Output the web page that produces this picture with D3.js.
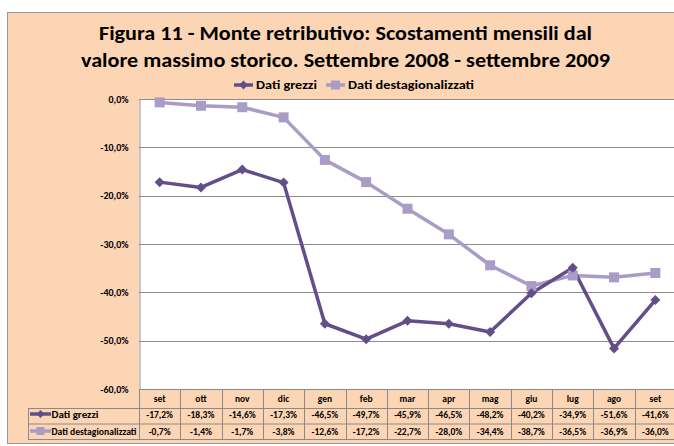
<!DOCTYPE html>
<html><head><meta charset="utf-8">
<script src="https://cdn.jsdelivr.net/npm/d3@7"></script>
<style>
html,body{margin:0;padding:0;background:#fff;}
svg{display:block;font-family:Carlito,Lato,"Open Sans",sans-serif;}
</style></head>
<body>
<svg id="c" width="674" height="446"></svg>
<script>
const months = ["set","ott","nov","dic","gen","feb","mar","apr","mag","giu","lug","ago","set"];
const grezzi = [-17.2,-18.3,-14.6,-17.3,-46.5,-49.7,-45.9,-46.5,-48.2,-40.2,-34.9,-51.6,-41.6];
const destag = [-0.7,-1.4,-1.7,-3.8,-12.6,-17.2,-22.7,-28.0,-34.4,-38.7,-36.5,-36.9,-36.0];
const yTicks = [0,-10,-20,-30,-40,-50,-60];
const seriesNames = ["Dati grezzi","Dati destagionalizzati"];
const titleLines = ["Figura 11 - Monte retributivo: Scostamenti mensili dal","valore massimo storico. Settembre 2008 - settembre 2009"];

const colG = "#634E8A", colD = "#A99CC7", peach = "#FCD5B5", grid = "#8C8C8C";
const locale = d3.formatLocale({decimal:",", thousands:".", grouping:[3], currency:["","€"], minus:"-"});
const f1 = locale.format(".1f");
const fmt = v => f1(v) + "%";

const svg = d3.select("#c");
// chart frame
svg.append("rect").attr("x",7.5).attr("y",12.5).attr("width",690).attr("height",431)
  .attr("fill",peach).attr("stroke","#9a9a9a");

// title
const tl = [{t:titleLines[0], y:39.5, w:493},{t:titleLines[1], y:66.5, w:529}];
svg.selectAll("text.title").data(tl).join("text").attr("class","title")
  .attr("x",345.5).attr("y",d=>d.y).attr("text-anchor","middle")
  .attr("font-size",19.5).attr("font-weight","bold").attr("fill","#000")
  .attr("textLength",d=>d.w).attr("lengthAdjust","spacingAndGlyphs").text(d=>d.t);

const x = d3.scaleBand().domain(d3.range(months.length)).range([139, 676]).padding(0);
const y = d3.scaleLinear().domain([-60, 0]).range([389, 99]);
const cx = i => x(i) + x.bandwidth()/2;

// plot area
svg.append("rect").attr("x",139).attr("y",99).attr("width",540).attr("height",290).attr("fill","#fff");
svg.append("g").selectAll("line").data(yTicks.filter(v=>v<0 && v>-60)).join("line")
  .attr("x1",139).attr("x2",676).attr("y1",d=>Math.round(y(d))+0.5).attr("y2",d=>Math.round(y(d))+0.5)
  .attr("stroke",grid).attr("stroke-width",1);
svg.append("line").attr("x1",139).attr("x2",680).attr("y1",99.5).attr("y2",99.5).attr("stroke",grid);

// y axis
const yAxis = d3.axisLeft(y).tickValues(yTicks).tickFormat(fmt).tickSize(0).tickPadding(11);
const gy = svg.append("g").attr("transform","translate(139.5,0)").call(yAxis);
gy.select(".domain").attr("stroke",grid);
gy.selectAll("text").attr("font-size",10).attr("font-weight","bold").attr("fill","#000")
  .attr("font-family","Carlito,Lato,sans-serif");

// lines
const line = d3.line().x((d,i)=>cx(i)).y(d=>y(d));
svg.append("path").datum(destag).attr("d",line).attr("fill","none").attr("stroke",colD).attr("stroke-width",3.5).attr("stroke-linejoin","round");
svg.append("path").datum(grezzi).attr("d",line).attr("fill","none").attr("stroke",colG).attr("stroke-width",3.5).attr("stroke-linejoin","round");

const diamond = (px,py,r) => `M${px},${py-r}L${px+r},${py}L${px},${py+r}L${px-r},${py}Z`;
const square = (px,py,r) => `M${px-r},${py-r}h${2*r}v${2*r}h${-2*r}Z`;

svg.append("g").selectAll("path").data(destag).join("path")
  .attr("d",(d,i)=>square(cx(i),y(d),5)).attr("fill",colD);
svg.append("g").selectAll("path").data(grezzi).join("path")
  .attr("d",(d,i)=>diamond(cx(i),y(d),5)).attr("fill",colG);

// legend
const leg = [{name:seriesNames[0], x0:234, col:colG, m:diamond, w:61},{name:seriesNames[1], x0:326, col:colD, m:square, w:126}];
const lg = svg.append("g");
leg.forEach(l=>{
  lg.append("line").attr("x1",l.x0).attr("x2",l.x0+19).attr("y1",85).attr("y2",85).attr("stroke",l.col).attr("stroke-width",3.5);
  lg.append("path").attr("d",l.m(l.x0+9.5,85,4.5)).attr("fill",l.col);
  lg.append("text").attr("x",l.x0+22).attr("y",89).attr("font-size",12.5).attr("font-weight","bold")
    .attr("textLength",l.w).attr("lengthAdjust","spacingAndGlyphs").text(l.name);
});

// data table
const tb = svg.append("g");
const tStroke = "#8a8a8a";
tb.append("line").attr("x1",139).attr("x2",680).attr("y1",389.5).attr("y2",389.5).attr("stroke",tStroke);
[408,423.5,439].forEach(yy=>{
  tb.append("line").attr("x1",28).attr("x2",680).attr("y1",yy+0.5).attr("y2",yy+0.5).attr("stroke",tStroke);
});
tb.append("line").attr("x1",28.5).attr("x2",28.5).attr("y1",408.5).attr("y2",439.5).attr("stroke",tStroke);
tb.selectAll("line.v").data(d3.range(months.length+1)).join("line").attr("class","v")
  .attr("x1",i=>Math.round(i<months.length?x(i):676)+0.5).attr("x2",i=>Math.round(i<months.length?x(i):676)+0.5)
  .attr("y1",389.5).attr("y2",439.5).attr("stroke",tStroke);

const cellFont = 9.5;
tb.selectAll("text.m").data(months).join("text").attr("class","m")
  .attr("x",(d,i)=>cx(i)).attr("y",401.5).attr("text-anchor","middle")
  .attr("font-size",cellFont).attr("font-weight","bold").text(d=>d);
tb.selectAll("text.g").data(grezzi).join("text").attr("class","g")
  .attr("x",(d,i)=>cx(i)).attr("y",418).attr("text-anchor","middle")
  .attr("font-size",cellFont).attr("font-weight","bold").text(d=>fmt(d));
tb.selectAll("text.d").data(destag).join("text").attr("class","d")
  .attr("x",(d,i)=>cx(i)).attr("y",434.5).attr("text-anchor","middle")
  .attr("font-size",cellFont).attr("font-weight","bold").text(d=>fmt(d));

// table legend keys
[{y:414, l:leg[0], w:47},{y:431, l:leg[1], w:85}].forEach(r=>{
  tb.append("line").attr("x1",30).attr("x2",51).attr("y1",r.y).attr("y2",r.y).attr("stroke",r.l.col).attr("stroke-width",3.5);
  tb.append("path").attr("d",r.l.m(40.5,r.y,4)).attr("fill",r.l.col);
  tb.append("text").attr("x",51.5).attr("y",r.y+3.5).attr("font-size",cellFont).attr("font-weight","bold")
    .attr("textLength",r.w).attr("lengthAdjust","spacingAndGlyphs").text(r.l.name);
});
</script>
</body></html>
